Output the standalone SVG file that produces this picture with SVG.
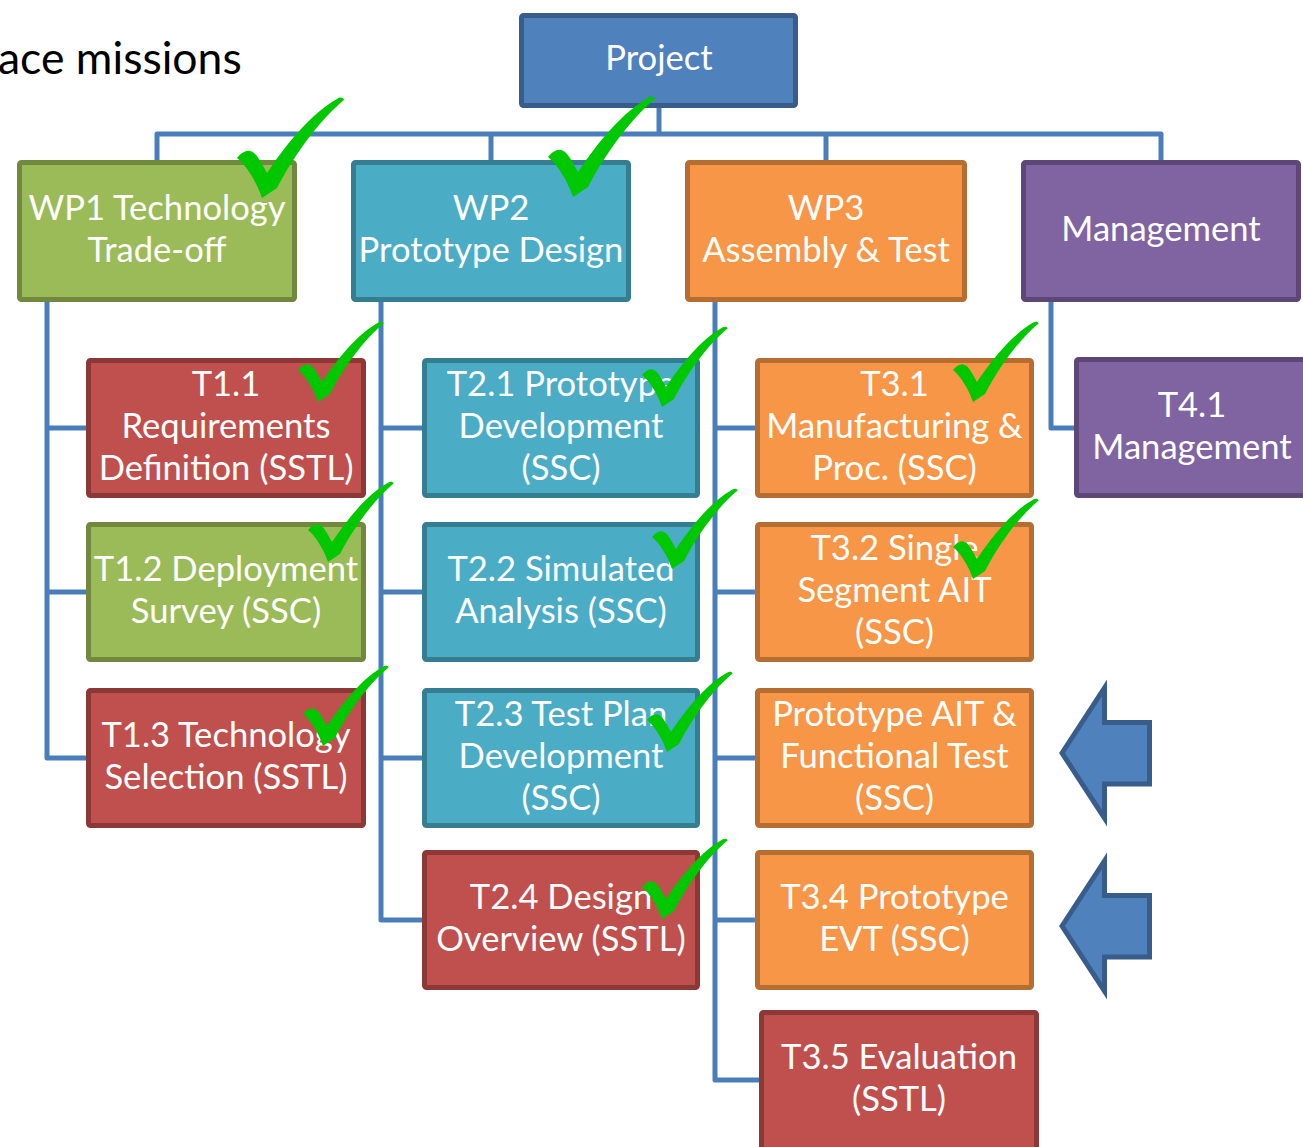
<svg xmlns="http://www.w3.org/2000/svg" xmlns:xlink="http://www.w3.org/1999/xlink" width="1303" height="1147" viewBox="0 0 1303 1147">
<style>
.box{stroke-width:5;stroke-linejoin:round}
.blue{fill:#4F81BD;stroke:#385D8A}
.green{fill:#9BBB59;stroke:#71893F}
.teal{fill:#4BACC6;stroke:#357D91}
.orange{fill:#F79646;stroke:#B66D31}
.purple{fill:#8064A2;stroke:#5C4776}
.red{fill:#C0504D;stroke:#8C3836}
.t{fill:#FFFFFF;font-family:Lato,"Open Sans","Liberation Sans",sans-serif;font-size:34.6px;text-anchor:middle}
.conn{fill:none;stroke:#4A7EBB;stroke-width:5;stroke-linejoin:round}
.chk{fill:#00C800}
.arrow{fill:#4F81BD;stroke:#385D8A;stroke-width:5;stroke-linejoin:miter}
</style>
<defs>
<path id="check" d="M0,0 C4,-5 9,-8 13,-7 C19,-6 24,4 30,15 C50,-15 75,-45 100,-59 C103,-61 106,-61 107,-58 C85,-40 60,-8 40,30 L25,40 C20,25 10,8 0,0 Z"/>
</defs>
<rect width="1303" height="1147" fill="#FFFFFF"/>
<text x="-2" y="74" font-family="Lato,'Open Sans','Liberation Sans',sans-serif" font-size="44.5" fill="#000000">ace missions</text>

<g id="connectors">
<path class="conn" d="M659,108 V134"/>
<path class="conn" d="M157,160 V134 H1161 V160"/>
<path class="conn" d="M491,134 V160"/>
<path class="conn" d="M826,134 V160"/>
<path class="conn" d="M47,302 V758 H86"/>
<path class="conn" d="M47,428 H86 M47,592 H86"/>
<path class="conn" d="M381,302 V920 H422"/>
<path class="conn" d="M381,428 H422 M381,592 H422 M381,758 H422"/>
<path class="conn" d="M715,302 V1080 H759"/>
<path class="conn" d="M715,428 H755 M715,592 H755 M715,758 H755 M715,920 H755"/>
<path class="conn" d="M1051,302 V428 H1074"/>
</g>

<g id="project"><rect class="box blue" x="521.5" y="15.5" width="274" height="90" rx="2"/><text class="t" x="659" y="70">Project</text></g>
<g id="wp1"><rect class="box green" x="19.5" y="162.5" width="275" height="137" rx="2"/><text class="t" x="157" y="220">WP1 Technology</text><text class="t" x="157" y="262">Trade-off</text></g>
<g id="wp2"><rect class="box teal" x="353.5" y="162.5" width="275" height="137" rx="2"/><text class="t" x="491" y="220">WP2</text><text class="t" x="491" y="262">Prototype Design</text></g>
<g id="wp3"><rect class="box orange" x="687.5" y="162.5" width="277" height="137" rx="2"/><text class="t" x="826" y="220">WP3</text><text class="t" x="826" y="262">Assembly &amp; Test</text></g>
<g id="management"><rect class="box purple" x="1023.5" y="162.5" width="275" height="137" rx="2"/><text class="t" x="1161" y="241">Management</text></g>

<g id="t11"><rect class="box red" x="88.5" y="360.5" width="275" height="135" rx="2"/><text class="t" x="226" y="396">T1.1</text><text class="t" x="226" y="438">Requirements</text><text class="t" x="226" y="480">Definition (SSTL)</text></g>
<g id="t12"><rect class="box green" x="88.5" y="524.5" width="275" height="135" rx="2"/><text class="t" x="226" y="581">T1.2 Deployment</text><text class="t" x="226" y="623">Survey (SSC)</text></g>
<g id="t13"><rect class="box red" x="88.5" y="690.5" width="275" height="135" rx="2"/><text class="t" x="226" y="747">T1.3 Technology</text><text class="t" x="226" y="789">Selection (SSTL)</text></g>

<g id="t21"><rect class="box teal" x="424.5" y="360.5" width="273" height="135" rx="2"/><text class="t" x="561" y="396">T2.1 Prototype</text><text class="t" x="561" y="438">Development</text><text class="t" x="561" y="480">(SSC)</text></g>
<g id="t22"><rect class="box teal" x="424.5" y="524.5" width="273" height="135" rx="2"/><text class="t" x="561" y="581">T2.2 Simulated</text><text class="t" x="561" y="623">Analysis (SSC)</text></g>
<g id="t23"><rect class="box teal" x="424.5" y="690.5" width="273" height="135" rx="2"/><text class="t" x="561" y="726">T2.3 Test Plan</text><text class="t" x="561" y="768">Development</text><text class="t" x="561" y="810">(SSC)</text></g>
<g id="t24"><rect class="box red" x="424.5" y="852.5" width="273" height="135" rx="2"/><text class="t" x="561" y="909">T2.4 Design</text><text class="t" x="561" y="951">Overview (SSTL)</text></g>

<g id="t31"><rect class="box orange" x="757.5" y="360.5" width="274" height="135" rx="2"/><text class="t" x="894.5" y="396">T3.1</text><text class="t" x="894.5" y="438">Manufacturing &amp;</text><text class="t" x="894.5" y="480">Proc. (SSC)</text></g>
<g id="t32"><rect class="box orange" x="757.5" y="524.5" width="274" height="135" rx="2"/><text class="t" x="894.5" y="560">T3.2 Single</text><text class="t" x="894.5" y="602">Segment AIT</text><text class="t" x="894.5" y="644">(SSC)</text></g>
<g id="t33"><rect class="box orange" x="757.5" y="690.5" width="274" height="135" rx="2"/><text class="t" x="894.5" y="726">Prototype AIT &amp;</text><text class="t" x="894.5" y="768">Functional Test</text><text class="t" x="894.5" y="810">(SSC)</text></g>
<g id="t34"><rect class="box orange" x="757.5" y="852.5" width="274" height="135" rx="2"/><text class="t" x="894.5" y="909">T3.4 Prototype</text><text class="t" x="894.5" y="951">EVT (SSC)</text></g>
<g id="t35"><rect class="box red" x="761.5" y="1012.5" width="275" height="140" rx="2"/><text class="t" x="899" y="1069">T3.5 Evaluation</text><text class="t" x="899" y="1111">(SSTL)</text></g>

<g id="t41"><rect class="box purple" x="1076.5" y="359.5" width="240" height="136" rx="2"/><text class="t" x="1192" y="417">T4.1</text><text class="t" x="1192" y="459">Management</text></g>

<g id="checks" class="chk">
<use xlink:href="#check" transform="translate(237,158)"/>
<use xlink:href="#check" transform="translate(548,157)"/>
<use xlink:href="#check" transform="translate(298,370) scale(0.8)"/>
<use xlink:href="#check" transform="translate(308,530) scale(0.8)"/>
<use xlink:href="#check" transform="translate(303,714) scale(0.8)"/>
<use xlink:href="#check" transform="translate(642,375) scale(0.8)"/>
<use xlink:href="#check" transform="translate(652,537) scale(0.8)"/>
<use xlink:href="#check" transform="translate(647,720) scale(0.8)"/>
<use xlink:href="#check" transform="translate(642,887) scale(0.8)"/>
<use xlink:href="#check" transform="translate(953,370) scale(0.8)"/>
<use xlink:href="#check" transform="translate(953,547) scale(0.8)"/>
</g>

<g id="arrows">
<polygon class="arrow" points="1062,753 1104.5,688 1104.5,722.5 1149.5,722.5 1149.5,784 1104.5,784 1104.5,818"/>
<polygon class="arrow" points="1062,926 1104.5,861 1104.5,895.5 1149.5,895.5 1149.5,957 1104.5,957 1104.5,991"/>
</g>
</svg>
